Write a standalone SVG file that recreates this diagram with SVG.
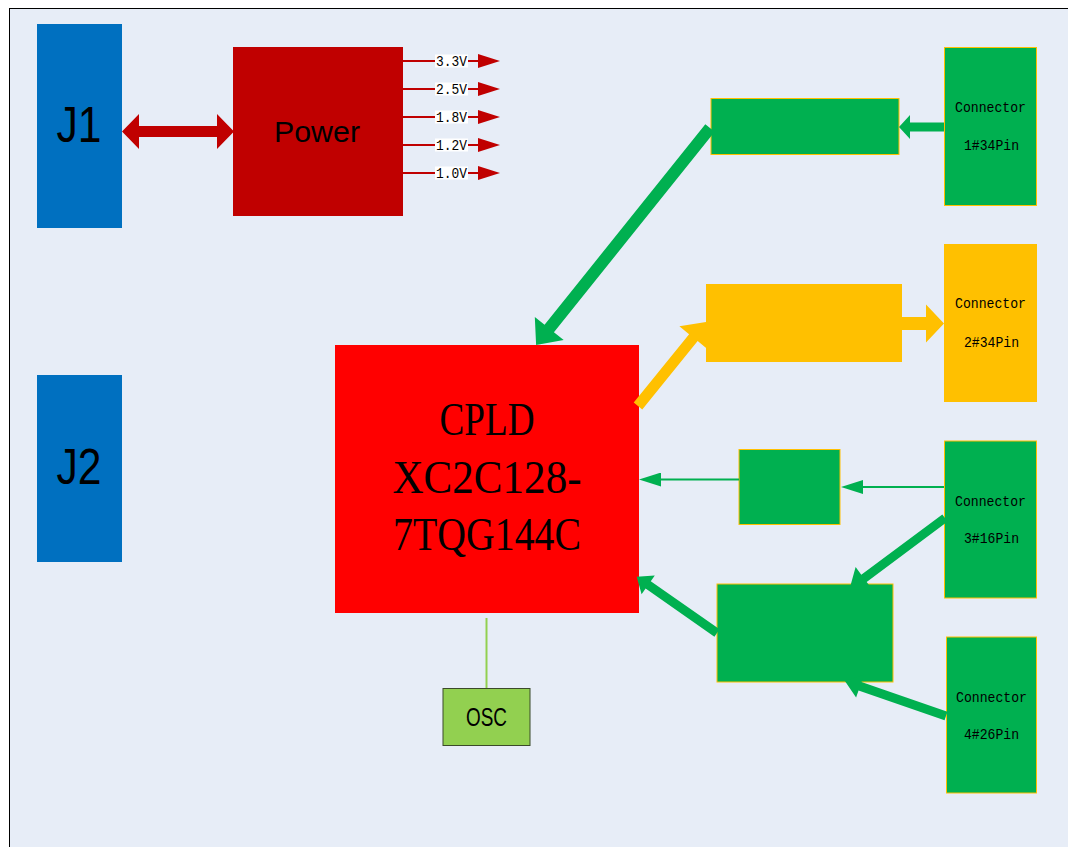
<svg xmlns="http://www.w3.org/2000/svg" width="1068" height="847" viewBox="0 0 1068 847">
<defs>
<style>
.gbox{fill:#00B050;stroke:#FFC000;stroke-width:1}
.ybox{fill:#FFC000}
.jbox{fill:#0070C0}
.jt{font-family:"Liberation Sans",Arial,sans-serif;font-size:50px;fill:#000;text-anchor:middle}
.ct{font-family:"Liberation Mono","Courier New",monospace;font-size:15px;fill:#000;text-anchor:middle}
.vt{font-family:"Liberation Mono","Courier New",monospace;font-size:14px;fill:#000;text-anchor:middle}
.cp{font-family:"Liberation Serif","Times New Roman",serif;font-size:46px;fill:#000;text-anchor:middle}
.vline{stroke:#C00000;stroke-width:2;fill:none}
.gline{stroke:#00B050;stroke-width:2;fill:none}
.garr{fill:#00B050}
.yarr{fill:#FFC000}
</style>
<marker id="arrRed" markerUnits="userSpaceOnUse" markerWidth="22" markerHeight="14" viewBox="0 0 22 14" refX="1" refY="7" orient="auto">
<path d="M0,0 L22,7 L0,14 z" fill="#C00000"/>
</marker>
<marker id="arrGreen" markerUnits="userSpaceOnUse" markerWidth="22" markerHeight="14" viewBox="0 0 22 14" refX="1" refY="7" orient="auto">
<path d="M0,0 L22,7 L0,14 z" fill="#00B050"/>
</marker>
</defs>
<rect x="0" y="0" width="1068" height="847" fill="#FFFFFF"/>
<rect x="9.5" y="8.5" width="1070" height="850" fill="#E7EDF7" stroke="#000" stroke-width="1"/>

<g id="J1"><rect class="jbox" x="37" y="24" width="85" height="204"/><text class="jt" x="79" y="142" textLength="45" lengthAdjust="spacingAndGlyphs">J1</text></g>
<g id="J2"><rect class="jbox" x="37" y="375" width="85" height="187"/><text class="jt" x="79" y="484" textLength="45" lengthAdjust="spacingAndGlyphs">J2</text></g>
<g id="Power"><rect x="233" y="47" width="170" height="169" fill="#C00000"/><text x="317" y="142" font-family="Liberation Sans,Arial,sans-serif" font-size="29" text-anchor="middle" textLength="86" lengthAdjust="spacingAndGlyphs">Power</text></g>
<g id="CPLD"><rect x="335" y="345" width="304" height="268" fill="#FF0000"/>
<text class="cp" x="487" y="435" textLength="95" lengthAdjust="spacingAndGlyphs">CPLD</text>
<text class="cp" x="487" y="493" textLength="189" lengthAdjust="spacingAndGlyphs">XC2C128-</text>
<text class="cp" x="487" y="550" textLength="188" lengthAdjust="spacingAndGlyphs">7TQG144C</text></g>
<g id="OSC"><rect x="443" y="688.5" width="87" height="57" fill="#92D050" stroke="#3B4A2A" stroke-width="1"/><text x="486.5" y="726" font-family="Liberation Sans,Arial,sans-serif" font-size="25" text-anchor="middle" textLength="41" lengthAdjust="spacingAndGlyphs">OSC</text></g>
<g id="box1"><rect class="gbox" x="711" y="98.5" width="188" height="56"/></g>
<g id="box2"><rect class="ybox" x="706" y="284" width="196" height="78"/></g>
<g id="box3"><rect class="gbox" x="739" y="449.5" width="101" height="75"/></g>
<g id="box4"><rect class="gbox" x="717" y="584" width="176" height="98"/></g>
<g id="conn1"><rect class="gbox" x="944.5" y="47.5" width="92" height="158"/><text class="ct" x="990.5" y="112" textLength="71" lengthAdjust="spacingAndGlyphs">Connector</text><text class="ct" x="991.5" y="150" textLength="55" lengthAdjust="spacingAndGlyphs">1#34Pin</text></g>
<g id="conn2"><rect class="ybox" x="944" y="244" width="93" height="158"/><text class="ct" x="990.5" y="308" textLength="71" lengthAdjust="spacingAndGlyphs">Connector</text><text class="ct" x="991.5" y="347" textLength="55" lengthAdjust="spacingAndGlyphs">2#34Pin</text></g>
<g id="conn3"><rect class="gbox" x="944.5" y="441" width="92" height="157"/><text class="ct" x="990.5" y="506" textLength="71" lengthAdjust="spacingAndGlyphs">Connector</text><text class="ct" x="991.5" y="543" textLength="55" lengthAdjust="spacingAndGlyphs">3#16Pin</text></g>
<g id="conn4"><rect class="gbox" x="946.5" y="637" width="90" height="156"/><text class="ct" x="991.5" y="702" textLength="71" lengthAdjust="spacingAndGlyphs">Connector</text><text class="ct" x="991.5" y="739" textLength="55" lengthAdjust="spacingAndGlyphs">4#26Pin</text></g>

<g id="connectors">
<polygon points="122,131.5 139,114 139,126 217,126 217,114 234,131.5 217,149 217,137 139,137 139,149" fill="#C00000"/>
<line class="vline" x1="403" y1="61" x2="479" y2="61" marker-end="url(#arrRed)"/>
<line class="vline" x1="403" y1="89" x2="479" y2="89" marker-end="url(#arrRed)"/>
<line class="vline" x1="403" y1="117" x2="479" y2="117" marker-end="url(#arrRed)"/>
<line class="vline" x1="403" y1="145" x2="479" y2="145" marker-end="url(#arrRed)"/>
<line class="vline" x1="403" y1="173" x2="479" y2="173" marker-end="url(#arrRed)"/>
<g>
<rect x="435" y="54.5" width="33" height="13" fill="#fff"/><text class="vt" x="451.5" y="66" textLength="31" lengthAdjust="spacingAndGlyphs">3.3V</text>
<rect x="435" y="82.5" width="33" height="13" fill="#fff"/><text class="vt" x="451.5" y="94" textLength="31" lengthAdjust="spacingAndGlyphs">2.5V</text>
<rect x="435" y="110.5" width="33" height="13" fill="#fff"/><text class="vt" x="451.5" y="122" textLength="31" lengthAdjust="spacingAndGlyphs">1.8V</text>
<rect x="435" y="138.5" width="33" height="13" fill="#fff"/><text class="vt" x="451.5" y="150" textLength="31" lengthAdjust="spacingAndGlyphs">1.2V</text>
<rect x="435" y="166.5" width="33" height="13" fill="#fff"/><text class="vt" x="451.5" y="178" textLength="31" lengthAdjust="spacingAndGlyphs">1.0V</text>
</g>
<polygon class="garr" points="944,122.5 910,122.5 910,115 899,127 910,139 910,131.5 944,131.5"/>
<polygon class="garr" transform="translate(710,128) rotate(128.72)" points="0,-6 257,-6 257,-18.5 278,0 257,18.5 257,6 0,6"/>
<polygon class="yarr" transform="translate(638,406) rotate(-51)" points="0,-5.5 88,-5.5 88,-18 108,0 88,18 88,5.5 0,5.5"/>
<polygon class="yarr" points="902,317 926,317 926,304.5 944,323.5 926,342.5 926,330 902,330"/>
<line class="gline" x1="739" y1="479.5" x2="660" y2="479.5" marker-end="url(#arrGreen)"/>
<line class="gline" x1="944" y1="487" x2="862" y2="487" marker-end="url(#arrGreen)"/>
<polygon class="garr" transform="translate(945,518) rotate(143.34)" points="0,-4.5 101,-4.5 101,-14 119,0 101,14 101,4.5 0,4.5"/>
<polygon class="garr" transform="translate(717,633) rotate(-145)" points="0,-4.5 84,-4.5 84,-11.5 98,0 84,11.5 84,4.5 0,4.5"/>
<polygon class="garr" transform="translate(946,716) rotate(-160.89)" points="0,-4.5 91,-4.5 91,-12 107,0 91,12 91,4.5 0,4.5"/>
<line x1="486.5" y1="618" x2="486.5" y2="688" stroke="#92D050" stroke-width="2"/>
</g>
</svg>
